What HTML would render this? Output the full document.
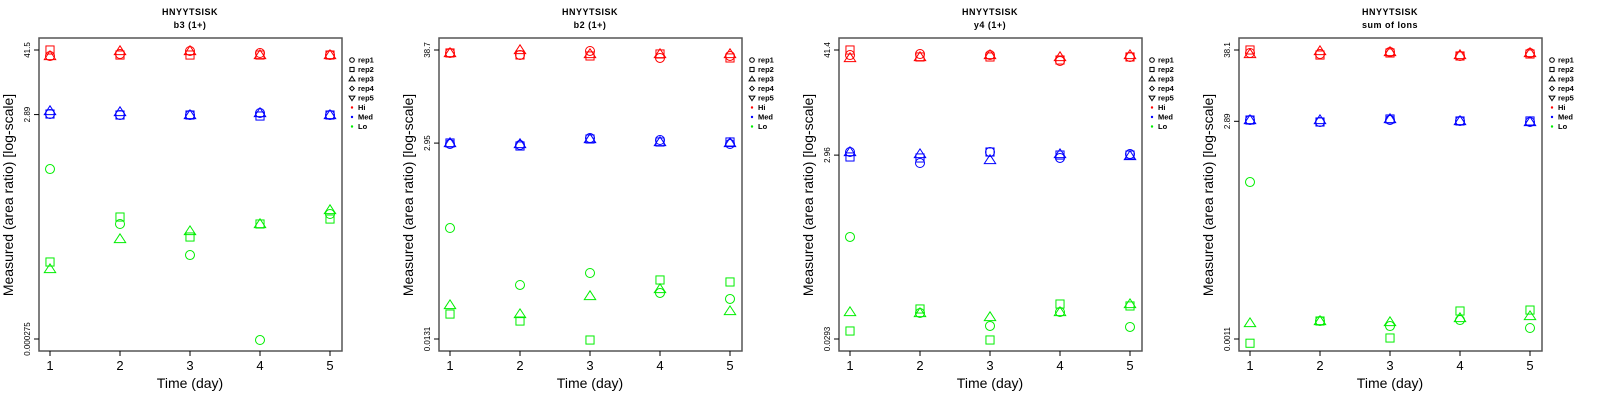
<!DOCTYPE html>
<html><head><meta charset="utf-8"><style>
html,body{margin:0;padding:0;background:#fff;}
svg{display:block;font-family:"Liberation Sans",sans-serif;}
</style></head><body>
<svg id="chart" width="1600" height="400" viewBox="0 0 1600 400"></svg>
<script>
// Shared
const days = [1, 2, 3, 4, 5];
const repNames = ["rep1", "rep2", "rep3", "rep4", "rep5"];
const groupNames = ["Hi", "Med", "Lo"];
const panelTitles = ["b3 (1+)", "b2 (1+)", "y4 (1+)", "sum of Ions"];
const peptide = "HNYYTSISK";
// y tick labels [bottom, middle, top]
const p1Ticks = ["0.000275", "2.89", "41.5"];
const p2Ticks = ["0.0131", "2.95", "38.7"];
const p3Ticks = ["0.0293", "2.96", "41.4"];
const p4Ticks = ["0.0011", "2.89", "38.1"];
// log10 measured values, [rep1, rep2, rep3] per day
const p1Hi = [[1.51,1.546,1.60,1.564,1.528],[1.618,1.528,1.528,1.528,1.528],[1.51,1.60,1.60,1.528,1.528]];
const p1Med = [[0.471,0.453,0.453,0.489,0.453],[0.471,0.453,0.453,0.435,0.453],[0.525,0.507,0.453,0.489,0.453]];
const p1Lo = [[-0.515,-1.50,-2.056,-3.579,-1.321],[-2.181,-1.375,-1.733,-1.50,-1.411],[-2.307,-1.769,-1.626,-1.50,-1.249]];
const p2Hi = [[1.552,1.528,1.576,1.492,1.516],[1.552,1.528,1.516,1.540,1.492],[1.552,1.588,1.540,1.540,1.540]];
const p2Med = [[0.459,0.447,0.531,0.507,0.459],[0.471,0.435,0.519,0.483,0.483],[0.471,0.459,0.519,0.483,0.471]];
const p2Lo = [[-0.550,-1.234,-1.090,-1.330,-1.402],[-1.583,-1.667,-1.895,-1.174,-1.198],[-1.475,-1.583,-1.366,-1.282,-1.547]];
const p3Hi = [[1.562,1.573,1.562,1.497,1.541],[1.617,1.541,1.541,1.508,1.541],[1.530,1.541,1.562,1.541,1.562]];
const p3Med = [[0.505,0.385,0.505,0.440,0.483],[0.451,0.440,0.505,0.472,0.472],[0.505,0.483,0.418,0.483,0.462]];
const p3Lo = [[-0.421,-1.250,-1.391,-1.239,-1.402],[-1.446,-1.206,-1.544,-1.152,-1.173],[-1.239,-1.250,-1.293,-1.239,-1.152]];
const p4Hi = [[1.534,1.518,1.550,1.487,1.534],[1.581,1.502,1.534,1.487,1.518],[1.518,1.565,1.550,1.502,1.534]];
const p4Med = [[0.481,0.450,0.481,0.466,0.450],[0.481,0.450,0.497,0.466,0.466],[0.481,0.481,0.497,0.466,0.450]];
const p4Lo = [[-0.493,-2.676,-2.755,-2.661,-2.786],[-3.025,-2.676,-2.943,-2.519,-2.504],[-2.708,-2.676,-2.692,-2.629,-2.598]];

const panels = [
  {ticks:p1Ticks, groups:[p1Hi,p1Med,p1Lo]},
  {ticks:p2Ticks, groups:[p2Hi,p2Med,p2Lo]},
  {ticks:p3Ticks, groups:[p3Hi,p3Med,p3Lo]},
  {ticks:p4Ticks, groups:[p4Hi,p4Med,p4Lo]}
];
const colors = ["#ff0000", "#0000ff", "#00ee00"];
const NS = "http://www.w3.org/2000/svg";
const svg = document.getElementById("chart");
function mk(tag, attrs, parent, text) {
  const e = document.createElementNS(NS, tag);
  for (const k in attrs) e.setAttribute(k, attrs[k]);
  if (text !== undefined) e.textContent = text;
  parent.appendChild(e);
  return e;
}
function marker(shape, cx, cy, color, parent, r) {
  let e;
  if (shape === 0) e = mk("circle", {cx:cx, cy:cy, r:r, fill:"none", stroke:color, "stroke-width":1}, parent);
  else if (shape === 1) e = mk("rect", {x:cx-r*0.9, y:cy-r*0.9, width:r*1.8, height:r*1.8, fill:"none", stroke:color, "stroke-width":1}, parent);
  else if (shape === 2) { const h = r*1.15; e = mk("polygon", {points:`${cx},${cy-h} ${cx+h*1.1},${cy+h*0.7} ${cx-h*1.1},${cy+h*0.7}`, fill:"none", stroke:color, "stroke-width":1}, parent); }
  else if (shape === 3) e = mk("polygon", {points:`${cx},${cy-r} ${cx+r},${cy} ${cx},${cy+r} ${cx-r},${cy}`, fill:"none", stroke:color, "stroke-width":1}, parent);
  else { const h = r*1.15; e = mk("polygon", {points:`${cx},${cy+h} ${cx+h*1.1},${cy-h*0.7} ${cx-h*1.1},${cy-h*0.7}`, fill:"none", stroke:color, "stroke-width":1}, parent); }
  return e;
}
panels.forEach((p, pi) => {
  const ox = pi * 400;
  const g = mk("g", {transform:`translate(${ox},0)`}, svg);
  
  
  const lo = Math.log10(parseFloat(p.ticks[0])), hi = Math.log10(parseFloat(p.ticks[2]));
  const yS = v => 339 - (v - lo) / (hi - lo) * 289;
  const xS = d => 50 + (d - 1) * 70;
  let t = mk("text", {x:190, y:15, "text-anchor":"middle", "font-size":9, "font-weight":"bold", "letter-spacing":"0.5"}, g, peptide);
  
  
  t = mk("text", {x:190, y:28, "text-anchor":"middle", "font-size":9, "font-weight":"bold", "letter-spacing":"0.5"}, g, panelTitles[pi]);
  
  
  const box = mk("rect", {x:39, y:38, width:303, height:313, fill:"none", stroke:"#555", "stroke-width":1.5}, g);
  
  
  days.forEach(d => {
    mk("line", {x1:xS(d), x2:xS(d), y1:351, y2:356, stroke:"#000"}, g);
    const l = mk("text", {x:xS(d), y:370, "text-anchor":"middle", "font-size":13}, g, String(d));
    
    
  });
  p.ticks.forEach(tv => {
    const y = yS(Math.log10(parseFloat(tv)));
    mk("line", {x1:34, x2:39, y1:y, y2:y, stroke:"#000"}, g);
    const l = mk("text", {x:0, y:0, "text-anchor":"middle", "font-size":8, transform:`translate(30,${y}) rotate(-90)`}, g, tv);
    
    
  });
  t = mk("text", {x:190, y:388, "text-anchor":"middle", "font-size":14}, g, "Time (day)");
  
  
  t = mk("text", {x:0, y:0, "text-anchor":"middle", "font-size":14, transform:"translate(13,195) rotate(-90)"}, g, "Measured (area ratio) [log-scale]");
  
  
  p.groups.forEach((grp, gi) => {
    grp.forEach((vals, ri) => {
      vals.forEach((v, di) => {
        const m = marker(ri, xS(days[di]), yS(v), colors[gi], g, 4.5);
        
        
      });
    });
  });
  const leg = mk("g", {}, g);
  
  
  repNames.forEach((n, i) => {
    const y = 60 + i * 9.5;
    marker(i, 352, y, "#000", leg, 2.3);
    const l = mk("text", {x:358, y:y+2.5, "font-size":7.5, "font-weight":"bold"}, leg, n);
    
    
  });
  groupNames.forEach((n, i) => {
    const y = 60 + (5 + i) * 9.5;
    mk("circle", {cx:352, cy:y, r:1.2, fill:colors[i]}, leg);
    const l = mk("text", {x:358, y:y+2.5, "font-size":7.5, "font-weight":"bold"}, leg, n);
    
    
  });
});
</script>
</body></html>
